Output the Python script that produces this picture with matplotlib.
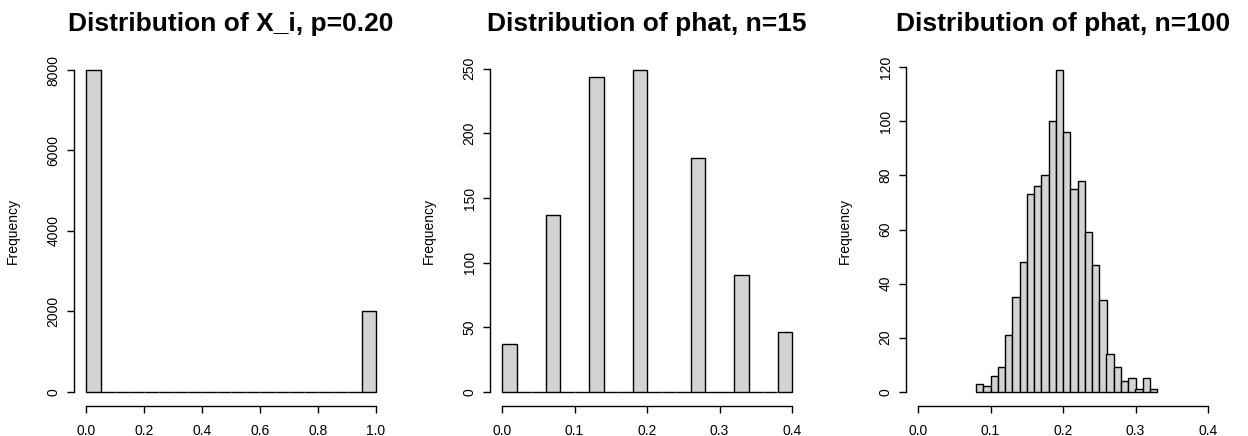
import numpy as np
import matplotlib.pyplot as plt

plt.rcParams['font.family'] = ['Liberation Sans', 'DejaVu Sans']

# panel 1: X_i ~ Bernoulli(0.2), bins of 0.05 on [0, 1]
edges1 = np.arange(0, 1.0001, 0.05)
counts1 = [8000] + [0] * 18 + [2000]

# panel 2: phat with n=15, bins of 0.02 on [0, 0.4]
edges2 = np.arange(0, 0.4001, 0.02)
counts2 = [37, 0, 0, 137, 0, 0, 244, 0, 0, 249,
           0, 0, 0, 181, 0, 0, 90, 0, 0, 46]

# panel 3: phat with n=100, bins of 0.01 on [0.08, 0.33]
edges3 = np.arange(0.08, 0.33001, 0.01)
counts3 = [3, 2, 6, 9, 21, 35, 48, 73, 76, 80, 100, 119, 96,
           75, 78, 59, 47, 34, 14, 9, 4, 5, 1, 5, 1]

titles = ['Distribution of X_i, p=0.20',
          'Distribution of phat, n=15',
          'Distribution of phat, n=100']
xranges = [(0, 1), (0, 0.4), (0, 0.4)]
xticks = [np.arange(0, 1.01, 0.2), np.arange(0, 0.41, 0.1), np.arange(0, 0.41, 0.1)]
xticklabels = [['0.0', '0.2', '0.4', '0.6', '0.8', '1.0'],
               ['0.0', '0.1', '0.2', '0.3', '0.4'],
               ['0.0', '0.1', '0.2', '0.3', '0.4']]
yticks = [np.arange(0, 8001, 2000), np.arange(0, 251, 50), np.arange(0, 121, 20)]

W, H = 1248, 436
fig = plt.figure(figsize=(W / 100, H / 100), dpi=100)

panels = [(edges1, counts1), (edges2, counts2), (edges3, counts3)]
for i, (edges, counts) in enumerate(panels):
    left = 74.4 + i * 416
    ax = fig.add_axes([left / W, (H - 404.6) / H, 313.2 / W, 347.4 / H])
    widths = np.diff(edges)
    ax.bar(edges[:-1], counts, width=widths, align='edge',
           color='#D3D3D3', edgecolor='black', linewidth=1.0)
    x0, x1 = xranges[i]
    dx = 0.04 * (x1 - x0)
    ax.set_xlim(x0 - dx, x1 + dx)
    ymax = max(counts)
    ax.set_ylim(-0.04 * ymax, 1.04 * ymax)

    ax.set_xticks(xticks[i])
    ax.set_xticklabels(xticklabels[i])
    ax.set_yticks(yticks[i])
    ax.set_yticklabels([str(v) for v in yticks[i]], rotation=90, va='center')

    for s in ['top', 'right']:
        ax.spines[s].set_visible(False)
    ax.spines['left'].set_bounds(yticks[i][0], yticks[i][-1])
    ax.spines['bottom'].set_bounds(xticks[i][0], xticks[i][-1])
    ax.spines['left'].set_linewidth(1.0)
    ax.spines['bottom'].set_linewidth(1.0)
    ax.spines['bottom'].set_position(('outward', 1))

    ax.tick_params(direction='out', length=5, width=1.0, labelsize=10)
    ax.tick_params(axis='y', pad=5)
    ax.tick_params(axis='x', pad=8)

    ax.set_ylabel('Frequency', fontsize=10)
    ax.yaxis.set_label_coords(-0.175, 0.5)
    ax.set_title(titles[i], fontsize=19, fontweight='bold', pad=19)

fig.savefig('out.png', dpi=100)
